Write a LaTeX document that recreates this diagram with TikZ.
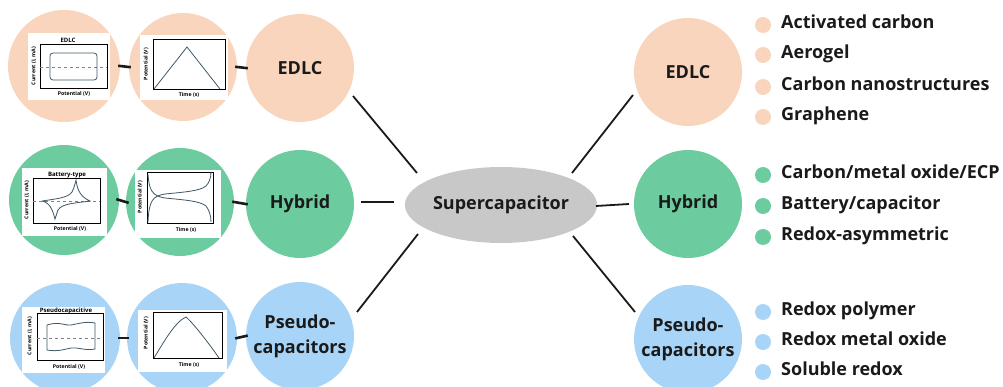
\documentclass[tikz,border=0pt]{standalone}
\usepackage{fontspec}
\setmainfont{Open Sans}
\usetikzlibrary{shapes.geometric}
\definecolor{peach}{RGB}{249,213,189}
\definecolor{mint}{RGB}{108,203,159}
\definecolor{sky}{RGB}{168,213,247}
\definecolor{ellgray}{RGB}{200,200,200}
\definecolor{curve}{RGB}{63,88,104}
\definecolor{ink}{RGB}{26,26,26}
\tikzset{
  bigc/.style={circle, minimum size=108pt, inner sep=0pt, align=center, text=ink,
    font=\bfseries\fontsize{18}{25}\selectfont},
  smallc/.style={circle, minimum size=110pt, inner sep=0pt},
  hub/.style={ellipse, fill=ellgray, minimum width=162pt, minimum height=76pt, inner sep=0pt,
    text=ink, font=\bfseries\fontsize{18}{20}\selectfont},
  conn/.style={line width=1.8pt, draw=ink},
  joint/.style={line width=2.6pt, draw=ink},
  dot/.style={circle, minimum size=16pt, inner sep=0pt},
  item/.style={anchor=mid west, inner sep=0pt, text=ink, font=\bfseries\fontsize{18}{20}\selectfont},
  axbox/.style={draw=black, line width=0.6pt},
  plotc/.style={draw=curve, line width=0.8pt},
  ptitle/.style={inner sep=0pt, font=\bfseries\fontsize{6}{7}\selectfont},
  plab/.style={inner sep=0pt, font=\bfseries\fontsize{5.2}{6}\selectfont},
}
\begin{document}
\begin{tikzpicture}[x=1pt,y=-1pt]
\useasboundingbox (0,0) rectangle (1003,387);
% ---------- left column circles ----------
\node[smallc, fill=peach, minimum size=112pt] (e1) at (64,66) {};
\node[smallc, fill=peach, minimum size=108pt] (e2) at (183,67) {};
\node[bigc, fill=peach] (le) at (300,68) {EDLC};
\node[smallc, fill=mint] (h1) at (64,200) {};
\node[smallc, fill=mint, minimum size=108pt] (h2) at (180,202) {};
\node[bigc, fill=mint] (lh) at (300,204) {Hybrid};
\node[smallc, fill=sky] (p1) at (65,338) {};
\node[smallc, fill=sky] (p2) at (182,338) {};
\node[bigc, fill=sky] (lp) at (300,336) {Pseudo-\\capacitors};
% joints
\draw[joint, shorten <=-2pt, shorten >=-2pt] (e1.east) -- (e2.west);
\draw[joint, shorten <=-2pt, shorten >=-2pt] (e2.east) -- (le.west);
\draw[joint, shorten <=-3pt, shorten >=-3pt] (h1.east) -- (h2.west);
\draw[joint, shorten <=-2pt, shorten >=-2pt] (h2.east) -- (lh.west);
\draw[joint, shorten <=-2pt, shorten >=-2pt] (p1.east) -- (p2.west);
\draw[joint, shorten <=-2pt, shorten >=-2pt] (p2.east) -- (lp.west);
% ---------- hub ----------
\node[hub] (sc) at (501,205) {Supercapacitor};
% ---------- right column ----------
\node[bigc, fill=peach] (re) at (688,72) {EDLC};
\node[bigc, fill=mint] (rh) at (688,204) {Hybrid};
\node[bigc, fill=sky] (rp) at (688,339) {Pseudo-\\capacitors};
% connectors (short segments with gaps)
\coordinate (a1) at (353,96);  \coordinate (a2) at (417,173);
\coordinate (b1) at (361,202); \coordinate (b2) at (394,202);
\coordinate (c1) at (357,312); \coordinate (c2) at (418,234);
\coordinate (d1) at (572,173); \coordinate (d2) at (633,95);
\coordinate (f1) at (596,206); \coordinate (f2) at (629,204);
\coordinate (g1) at (573,236); \coordinate (g2) at (635,312);
\draw[conn] (a1) -- (a2);
\draw[conn] (b1) -- (b2);
\draw[conn] (c1) -- (c2);
\draw[conn] (d1) -- (d2);
\draw[conn] (f1) -- (f2);
\draw[conn] (g1) -- (g2);
% ---------- bullet lists ----------
\node[dot, fill=peach] (ed1) at (763,25) {};
\node[dot, fill=peach] (ed2) at (763,55) {};
\node[dot, fill=peach] (ed3) at (763,87) {};
\node[dot, fill=peach] (ed4) at (763,117) {};
\node[item] (et1) at (781,26) {Activated carbon};
\node[item] (et2) at (781,56) {Aerogel};
\node[item] (et3) at (781,88) {Carbon nanostructures};
\node[item] (et4) at (781,118) {Graphene};
\node[dot, fill=mint] (hd1) at (763,175) {};
\node[dot, fill=mint] (hd2) at (763,206) {};
\node[dot, fill=mint] (hd3) at (763,237) {};
\node[item] (ht1) at (781,176) {Carbon/metal oxide/ECP};
\node[item] (ht2) at (781,207) {Battery/capacitor};
\node[item] (ht3) at (781,238) {Redox-asymmetric};
\node[dot, fill=sky] (pd1) at (763,312) {};
\node[dot, fill=sky] (pd2) at (763,342) {};
\node[dot, fill=sky] (pd3) at (763,372) {};
\node[item] (pt1) at (781,313) {Redox polymer};
\node[item] (pt2) at (781,343) {Redox metal oxide};
\node[item] (pt3) at (781,373) {Soluble redox};
% ---------- plot 1: EDLC CV ----------
\fill[white] (28,33) rectangle (110,100);
\draw[axbox] (40,44) rectangle (107,88);
\draw[dashed, line width=0.4pt, gray] (40,67) -- (107,67);
\draw[plotc, rounded corners=3pt] (50,53) rectangle (97,80);
\node[ptitle] (t1) at (68,40) {EDLC};
\node[plab] (x1) at (74,94) {Potential (V)};
\node[plab, rotate=90] (y1) at (34,66) {Current (I, mA)};
% ---------- plot 2: EDLC GCD ----------
\fill[white] (140,35) rectangle (228,100);
\draw[axbox] (153,39) rectangle (225,89);
\draw[plotc] (154,89) -- (187,47) -- (220,89);
\node[plab] (x2) at (189,95) {Time (s)};
\node[plab, rotate=90] (y2) at (146,64) {Potential (V)};
% ---------- plot 3: battery-type CV ----------
\fill[white] (22,168) rectangle (107,236);
\draw[axbox] (33,178) rectangle (100,223);
\draw[dashed, line width=0.4pt, gray] (33,201) -- (100,201);
\draw[plotc] (42,201) .. controls (55,199) and (68,198) .. (72,192)
  .. controls (74,188) and (75,184) .. (76,180)
  .. controls (77,186) and (78,196) .. (90,201)
  .. controls (78,203) and (62,203) .. (58,210)
  .. controls (57,213) and (56,216) .. (55,219)
  .. controls (53,212) and (51,203) .. (42,201);
\node[ptitle] (t3) at (67,175) {Battery-type};
\node[plab] (x3) at (70,229) {Potential (V)};
\node[plab, rotate=90] (y3) at (27,200) {Current (I, mA)};
% ---------- plot 4: hybrid GCD ----------
\fill[white] (135,170) rectangle (221,238);
\draw[axbox] (147,172) rectangle (213,223);
\draw[plotc] (148,222) .. controls (149,200) and (153,196) .. (165,194)
  .. controls (185,192) and (200,191) .. (206,186)
  .. controls (209,183) and (211,178) .. (211,172);
\draw[plotc] (148,174) .. controls (149,190) and (152,196) .. (165,198)
  .. controls (185,200) and (200,201) .. (206,206)
  .. controls (209,210) and (211,215) .. (211,222);
\node[plab] (x4) at (186,230) {Time (s)};
\node[plab, rotate=90] (y4) at (140,197) {Potential (V)};
% ---------- plot 5: pseudocapacitive CV ----------
\fill[white] (22,307) rectangle (105,373);
\draw[axbox] (37,313) rectangle (103,360);
\draw[dashed, line width=0.4pt, gray] (37,338) -- (103,338);
\draw[plotc] (47,325) .. controls (60,321) and (65,326) .. (71,325)
  .. controls (78,324) and (85,321) .. (95,323) -- (95,349)
  .. controls (85,351) and (78,347) .. (71,348)
  .. controls (65,349) and (58,352) .. (47,350) -- cycle;
\node[ptitle] (t5) at (66,311) {Pseudocapacitive};
\node[plab] (x5) at (69,367) {Potential (V)};
\node[plab, rotate=90] (y5) at (30,336) {Current (I, mA)};
% ---------- plot 6: pseudocapacitive GCD ----------
\fill[white] (138,310) rectangle (227,372);
\draw[axbox] (153,312) rectangle (222,358);
\draw[plotc] (154,358) .. controls (165,340) and (175,322) .. (186,317)
  .. controls (195,325) and (210,345) .. (219,358);
\node[plab] (x6) at (189,365) {Time (s)};
\node[plab, rotate=90] (y6) at (146,333) {Potential (V)};
\end{tikzpicture}
\end{document}
